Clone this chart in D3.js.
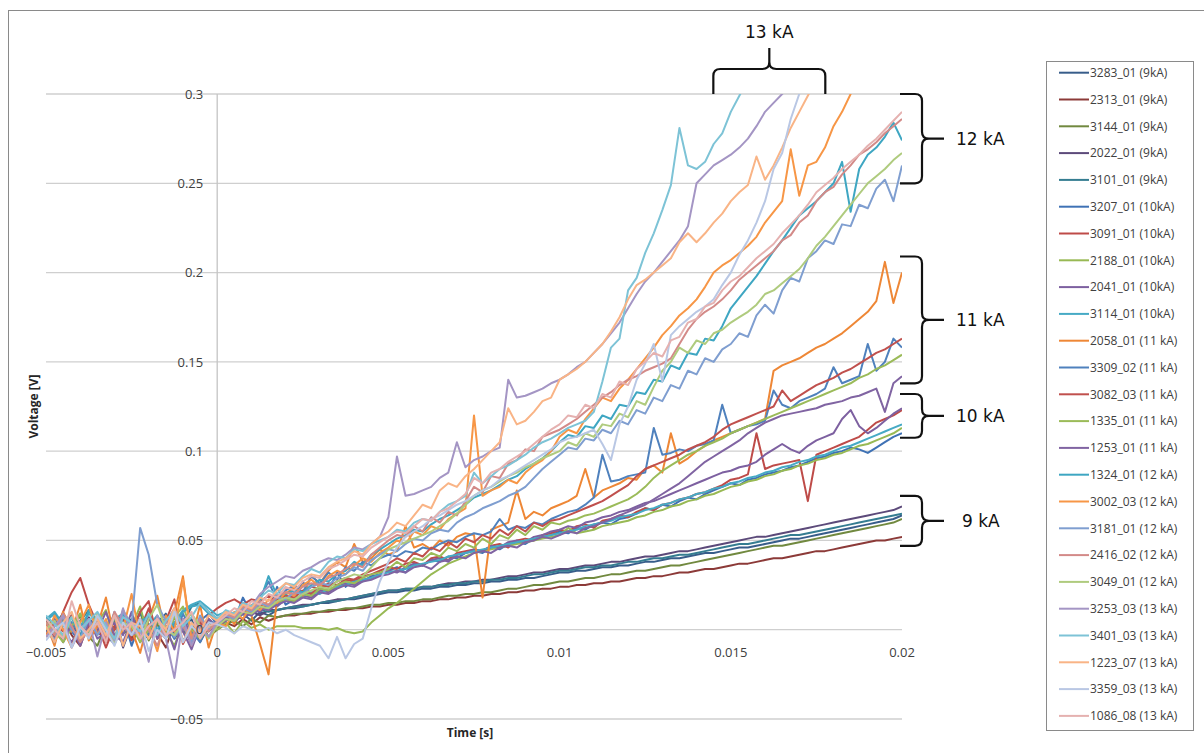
<!DOCTYPE html>
<html>
<head>
<meta charset="utf-8">
<script src="https://cdn.jsdelivr.net/npm/d3@7"></script>
<style>
  body { margin: 0; background: #fff; }
  svg { display: block; font-family: "Open Sans", sans-serif; }
</style>
</head>
<body>
<svg id="chart" width="1204" height="753"></svg>
<script>
// sample times in ms (shared by every trace)
const timesMs = [
  -5,-4.75,-4.5,-4.25,-4,-3.75,-3.5,-3.25,-3,-2.75,-2.5,-2.25,-2,-1.75,-1.5,-1.25,-1,-0.75,-0.5,-0.25,
  0,0.25,0.5,0.75,1,1.25,1.5,1.75,2,2.25,2.5,2.75,3,3.25,3.5,3.75,4,4.25,4.5,4.75,
  5,5.25,5.5,5.75,6,6.25,6.5,6.75,7,7.25,7.5,7.75,8,8.25,8.5,8.75,9,9.25,9.5,9.75,
  10,10.25,10.5,10.75,11,11.25,11.5,11.75,12,12.25,12.5,12.75,13,13.25,13.5,13.75,14,14.25,14.5,14.75,
  15,15.25,15.5,15.75,16,16.25,16.5,16.75,17,17.25,17.5,17.75,18,18.25,18.5,18.75,19,19.25,19.5,19.75,20
];

// voltages in mV
const v3283 = [5,-4,2,8,-6,1,4,-3,-8,3,6,-1,-5,4,9,-3,1,6,-7,2,
  2,6,4,9,5,10,8,11,12,12,13,14,15,15,16,17,17,18,19,20,
  21,21,22,22,23,23,24,24,25,25,26,26,27,27,28,28,29,29,30,31,
  32,32,33,33,34,35,35,36,36,37,38,38,39,40,40,41,42,43,43,44,
  45,46,46,47,48,49,50,51,51,52,53,54,55,56,57,58,59,60,61,62,64];
const v2313 = [-4,2,6,-3,-9,4,0,-7,2,9,-5,1,7,-2,-10,4,2,-6,0,6,
  1,4,2,6,3,7,5,7,8,8,9,9,10,10,11,11,12,12,13,13,
  14,14,15,15,16,16,17,17,18,18,19,19,20,20,21,21,22,22,23,23,
  24,24,25,25,26,26,27,27,28,29,29,30,30,31,32,32,33,34,34,35,
  36,37,37,38,39,40,40,41,42,43,44,44,45,46,47,48,49,50,50,51,52];
const v3144 = [2,-7,5,-1,8,-4,-9,3,5,-2,0,10,-6,3,-5,7,-1,-3,5,-4,
  0,3,5,2,6,4,8,7,8,9,9,10,10,11,11,12,12,13,14,14,
  15,15,16,16,17,17,18,19,19,20,20,21,21,22,23,23,24,25,25,26,
  27,27,28,29,29,30,31,31,32,33,33,34,35,36,36,37,38,39,40,41,
  42,43,44,45,46,47,47,48,49,50,51,52,53,54,55,56,57,58,59,60,62];
const v2022 = [-1,5,-7,2,-3,7,-1,-5,9,-10,3,5,-3,0,7,-5,2,-8,4,-1,
  3,5,8,6,10,8,11,11,12,13,14,14,15,16,17,17,18,19,20,21,
  22,22,23,23,24,24,25,26,26,27,27,28,28,29,30,30,31,32,32,33,
  34,34,35,36,36,37,38,38,39,40,41,41,42,43,44,44,45,46,47,48,
  49,50,51,52,52,53,54,55,56,57,58,59,60,61,62,63,64,65,66,67,69];
const v3101 = [7,3,9,1,5,11,3,-2,8,5,1,9,3,-1,5,10,3,13,15,10,
  6,8,5,10,9,11,10,11,12,13,13,14,15,16,16,17,18,19,20,21,
  22,22,23,23,24,24,25,25,26,26,27,27,28,28,29,29,30,31,31,32,
  33,33,34,35,35,36,36,37,38,38,39,40,40,41,42,42,43,44,45,46,
  47,48,48,49,50,51,52,53,53,54,55,56,57,58,59,60,61,62,63,64,65];
const v3207 = [4,-3,9,-1,-7,6,2,-5,0,8,-9,4,-1,-3,7,2,-6,0,5,9,
  3,8,5,18,9,14,11,24,14,17,27,19,23,22,32,24,28,27,30,31,
  33,35,32,37,36,39,38,41,40,43,44,43,46,45,48,49,48,51,52,53,
  55,54,57,56,59,60,59,62,63,65,68,67,70,69,72,74,73,76,78,80,
  82,81,84,85,87,88,89,91,92,94,96,97,99,100,102,101,99,102,105,108,110];
const v3091 = [5,-4,10,21,29,14,3,-10,2,7,-6,0,12,-5,5,17,-8,2,-3,8,
  12,15,17,14,17,16,19,15,20,22,21,24,23,26,25,28,27,30,31,33,
  35,34,37,38,36,40,41,39,43,44,45,44,47,48,46,50,51,50,53,54,
  56,55,58,59,57,61,62,64,63,66,68,67,70,71,73,74,76,77,79,81,
  84,85,87,110,90,92,93,94,95,72,98,100,102,104,106,108,112,116,118,120,123];
const v2188 = [2,6,-5,0,9,-3,4,11,-7,0,2,13,-5,6,-1,-9,4,2,-3,4,
  0,4,-2,5,1,3,0,2,2,2,1,1,1,0,1,-1,-2,-1,4,8,
  12,15,19,23,27,31,34,37,39,41,43,44,45,46,47,48,49,50,51,52,
  53,57,54,55,56,58,59,60,61,63,64,66,67,69,70,72,73,75,76,78,
  80,81,83,84,86,87,89,90,92,93,95,96,98,99,101,103,104,106,108,110,113];
const v2041 = [-3,5,0,-7,2,6,-5,-1,4,-3,10,-7,2,0,-5,9,-1,-11,2,6,
  2,5,9,6,11,10,14,13,17,16,19,18,22,21,24,26,25,28,29,31,
  33,32,35,37,36,39,40,38,42,43,45,44,47,46,49,50,49,52,53,55,
  56,58,57,60,61,63,64,66,67,69,71,72,74,76,78,80,82,84,86,88,
  89,91,92,94,98,101,104,101,99,103,106,108,110,118,123,114,110,113,117,121,124];
const v3114 = [6,10,3,7,2,9,5,0,8,4,-2,6,2,8,0,4,11,14,16,12,
  8,10,7,12,10,14,13,16,17,18,19,21,20,23,24,25,27,28,29,31,
  32,33,34,36,37,38,39,41,42,43,44,45,46,47,48,49,50,51,52,53,
  54,55,56,58,59,60,61,63,64,65,67,68,70,71,73,74,76,77,79,80,
  82,83,85,86,88,89,91,92,94,95,97,98,100,102,103,105,107,109,111,113,115];
const v2058 = [4,-9,10,-1,14,-6,2,18,-5,8,0,-13,6,19,-3,9,30,-6,14,-10,
  5,10,3,14,8,-8,-25,18,20,24,19,30,26,33,38,35,48,38,40,45,
  42,44,58,46,48,45,50,47,52,54,53,18,56,58,60,78,62,66,64,68,
  70,72,75,90,74,78,80,82,85,84,90,92,88,110,93,96,100,103,106,108,
  110,112,114,116,118,145,148,150,152,155,158,160,163,166,170,174,178,184,206,183,200];
const v3309 = [2,-7,8,4,-3,-1,6,-5,10,-9,4,0,-3,7,2,-5,9,-1,-7,4,
  4,10,7,15,12,18,27,16,22,25,21,30,26,32,28,35,33,38,36,40,
  42,41,44,43,46,45,48,50,49,52,54,53,55,62,56,58,57,60,59,62,
  64,66,67,70,74,98,83,84,86,87,88,113,98,99,101,100,103,104,106,126,
  110,112,114,115,117,134,126,124,128,130,132,135,147,138,140,142,160,145,150,163,158];
const v3082 = [-3,4,-1,8,-5,2,6,-7,0,4,-3,10,16,-5,2,-1,6,-9,4,0,
  3,8,6,11,9,14,12,17,19,18,22,20,25,24,27,29,28,31,33,35,
  37,40,38,43,41,46,44,49,46,51,49,53,51,56,53,58,55,60,58,61,
  62,64,66,68,70,72,75,78,81,86,90,92,94,96,98,101,103,105,108,112,
  115,117,119,121,123,125,134,128,131,134,137,139,141,144,146,149,152,155,157,160,163];
const v1335 = [4,-1,-7,2,9,-3,5,0,-5,11,2,-7,0,5,-3,7,13,0,-5,2,
  2,6,5,10,8,13,11,15,17,16,20,19,23,22,25,27,26,29,31,32,
  34,38,35,40,39,43,41,46,44,48,46,51,48,53,51,56,53,58,56,60,
  59,61,62,64,65,67,69,71,73,76,80,85,89,92,95,98,100,103,105,107,
  110,112,114,116,118,120,122,124,126,128,130,132,134,136,138,141,143,146,148,151,154];
const v1253 = [0,6,-5,2,-9,4,-1,10,-3,-7,5,0,8,-5,2,-11,6,-3,0,4,
  3,7,5,9,8,12,11,14,16,15,18,17,21,20,23,25,24,27,28,30,
  31,33,32,35,36,34,38,39,41,40,43,44,43,46,47,46,49,50,52,51,
  53,55,54,57,58,60,62,64,66,68,70,73,76,79,82,86,90,94,97,100,
  103,106,110,113,116,118,120,121,122,123,124,126,127,128,130,131,133,135,122,138,142];
const v1324 = [5,9,2,7,-4,11,4,-1,6,9,-3,4,8,0,6,2,10,13,14,9,
  5,9,8,13,12,16,30,19,20,22,21,25,28,27,31,33,38,36,42,45,
  48,51,53,56,55,59,62,64,67,70,74,76,78,81,84,86,90,93,96,100,
  105,109,108,114,113,120,118,126,125,133,132,140,139,148,146,155,154,163,162,170,
  180,186,192,198,205,212,218,225,232,236,240,245,250,262,234,258,266,270,276,284,274];
const v3002 = [-4,8,0,-10,4,14,-3,6,-7,0,20,-5,2,-12,8,-1,28,-5,6,0,
  4,2,10,6,14,11,17,15,21,19,25,28,24,30,33,31,36,40,38,43,
  46,50,48,55,53,58,56,62,65,68,120,75,78,80,84,82,88,92,95,100,
  108,112,110,118,124,130,128,135,140,146,152,158,165,170,176,180,185,192,200,204,
  207,211,215,220,228,234,240,269,243,260,262,270,282,290,300,312,325,338,350,362,375];
const v3181 = [2,-6,8,0,-5,6,-3,4,-8,10,3,57,42,14,5,-4,2,-7,8,0,
  3,8,6,12,10,15,13,18,17,21,20,24,26,25,29,31,35,33,39,42,
  45,44,48,51,50,54,56,55,60,63,65,68,70,72,75,77,80,85,90,94,
  98,102,101,107,106,112,110,117,115,123,121,130,128,137,135,145,143,152,150,157,
  160,166,164,176,182,177,190,197,195,208,212,218,216,227,226,238,236,247,252,240,260];
const v2416 = [4,-3,9,2,-7,0,6,-5,10,2,-3,6,0,-9,4,12,2,-5,6,-1,
  5,9,7,13,11,16,14,19,21,20,24,26,25,29,31,34,37,35,42,46,
  50,53,52,58,55,63,60,66,64,72,80,77,86,85,93,95,101,100,108,110,
  112,115,118,122,126,130,133,137,140,142,145,147,149,152,160,168,174,178,181,185,
  190,196,200,204,208,212,218,221,228,232,240,245,248,255,260,266,269,273,278,282,286];
const v3049 = [0,5,-5,7,2,-3,9,0,-7,4,2,-5,6,14,0,-3,4,9,2,-5,
  2,6,5,10,9,13,12,16,18,17,20,22,24,23,27,29,31,30,35,40,
  45,47,49,51,53,55,58,61,65,70,75,78,80,83,86,88,91,93,96,98,
  100,105,103,110,108,115,114,121,119,128,126,136,145,150,158,155,162,160,166,168,
  172,175,178,182,188,190,194,198,202,208,215,220,226,232,238,244,250,254,258,263,267];
const v3253 = [-4,2,8,-10,0,6,-15,4,-6,12,-3,0,-18,8,-5,-27,6,-9,2,-4,
  4,10,8,15,13,20,24,27,30,29,33,35,38,40,39,42,46,45,48,52,
  63,97,75,76,78,80,85,88,105,91,95,97,100,102,140,130,131,133,135,138,
  140,143,147,150,155,160,166,172,180,188,195,200,206,212,218,226,250,255,260,263,
  266,270,275,282,290,295,300,305,310,318,325,330,338,345,352,360,368,375,382,390,398];
const v3401 = [8,3,-3,7,0,5,10,2,-5,7,4,-1,9,-3,5,11,2,7,15,10,
  6,11,9,15,13,18,22,20,26,25,30,34,32,38,41,40,45,44,48,50,
  52,56,55,60,62,61,66,70,72,75,88,82,86,90,92,95,98,102,105,107,
  110,113,115,117,122,139,158,163,190,197,211,222,235,249,281,260,258,262,272,278,
  290,299,308,316,324,332,340,348,356,364,372,380,388,396,404,412,420,428,436,444,452];
const v1223 = [2,-7,4,10,-5,0,6,-3,8,-9,4,2,-5,6,0,12,-7,4,-1,8,
  5,10,8,14,12,18,16,22,26,24,29,31,30,35,38,40,44,42,48,52,
  55,60,58,64,70,68,78,82,80,86,90,95,100,105,124,115,117,122,128,130,
  140,143,146,150,155,160,167,175,185,193,196,200,204,208,217,222,217,222,228,233,
  240,245,249,265,252,260,270,281,290,299,308,316,324,332,340,348,356,364,372,380,388];
const v3359 = [-6,0,4,-10,2,-5,8,0,-9,4,-3,6,-12,0,-5,10,-7,2,-3,4,
  3,1,-2,2,0,-1,1,-2,0,-3,-5,-7,-9,-16,-4,-16,-8,-5,12,27,
  38,46,52,55,58,62,64,67,70,72,75,78,80,84,86,89,92,95,98,101,
  105,107,108,110,112,104,95,115,125,140,149,160,139,165,170,174,178,181,185,193,
  200,210,218,228,240,258,267,286,300,312,324,336,348,360,372,384,396,408,420,432,444];
const v1086 = [6,0,-5,16,2,-3,4,-7,8,0,4,-5,2,6,-3,0,4,10,-5,2,
  4,8,12,10,16,14,20,18,24,22,27,30,29,34,36,39,42,41,46,49,
  52,55,54,58,62,61,66,68,72,76,85,82,88,90,94,97,100,104,108,112,
  115,120,119,126,124,132,130,139,137,146,150,155,153,162,164,172,174,181,183,190,
  195,198,203,208,212,216,222,227,232,238,245,249,253,258,262,266,271,275,280,285,290];

const seriesNames = [
  '3283_01 (9kA)', '2313_01 (9kA)', '3144_01 (9kA)', '2022_01 (9kA)', '3101_01 (9kA)',
  '3207_01 (10kA)', '3091_01 (10kA)', '2188_01 (10kA)', '2041_01 (10kA)', '3114_01 (10kA)',
  '2058_01 (11 kA)', '3309_02 (11 kA)', '3082_03 (11 kA)', '1335_01 (11 kA)', '1253_01 (11 kA)',
  '1324_01 (12 kA)', '3002_03 (12 kA)', '3181_01 (12 kA)', '2416_02 (12 kA)', '3049_01 (12 kA)',
  '3253_03 (13 kA)', '3401_03 (13 kA)', '1223_07 (13 kA)', '3359_03 (13 kA)', '1086_08 (13 kA)'
];
const seriesValues = [
  v3283, v2313, v3144, v2022, v3101,
  v3207, v3091, v2188, v2041, v3114,
  v2058, v3309, v3082, v1335, v1253,
  v1324, v3002, v3181, v2416, v3049,
  v3253, v3401, v1223, v3359, v1086
];
const seriesColors = [
  '#385D8A', '#8C3A38', '#71893F', '#5C4A7A', '#357D91',
  '#3F72B5', '#BE4B48', '#98B954', '#7D60A0', '#46AAC5',
  '#EE8736', '#4F81BD', '#C0504D', '#9BBB59', '#8064A2',
  '#3EA6C2', '#F79646', '#7F9ED0', '#D38A88', '#AFCB7E',
  '#A495C4', '#7DC3D6', '#F9B486', '#B9C7E4', '#E5B1B0'
];

const xTicks = [-0.005, 0, 0.005, 0.01, 0.015, 0.02];
const yTicks = [-0.05, 0, 0.05, 0.1, 0.15, 0.2, 0.25, 0.3];

// kA groups marked by braces (volts at the right edge, seconds on top)
const groupLabels = ['12 kA', '11 kA', '10 kA', '9 kA'];
const groupRanges = [[0.3, 0.25], [0.209, 0.138], [0.132, 0.1075], [0.075, 0.047]];
const topGroupLabel = '13 kA';
const topGroupRange = [0.01449, 0.01776];

const svg = d3.select('#chart');
const plot = { left: 46, right: 902, top: 94, bottom: 719 };

const xScale = d3.scaleLinear().domain([-0.005, 0.02]).range([plot.left, plot.right]);
const yScale = d3.scaleLinear().domain([-0.05, 0.3]).range([plot.bottom, plot.top]);

// chart frame
svg.append('rect')
  .attr('x', 8.5).attr('y', 10.5)
  .attr('width', 1210).attr('height', 760)
  .attr('fill', '#fff')
  .attr('stroke', '#8a8a8a')
  .attr('stroke-width', 1);

// horizontal gridlines
svg.append('g')
  .selectAll('line')
  .data(yTicks)
  .enter().append('line')
  .attr('x1', plot.left).attr('x2', plot.right)
  .attr('y1', d => yScale(d)).attr('y2', d => yScale(d))
  .attr('stroke', '#cfcfcf')
  .attr('stroke-width', 1.3);

// vertical axis line through x = 0
svg.append('line')
  .attr('x1', xScale(0)).attr('x2', xScale(0))
  .attr('y1', plot.top).attr('y2', plot.bottom)
  .attr('stroke', '#c4c4c4')
  .attr('stroke-width', 1.3);

// traces, clipped to the plot area
svg.append('clipPath').attr('id', 'plot-clip')
  .append('rect')
  .attr('x', plot.left).attr('y', plot.top)
  .attr('width', plot.right - plot.left)
  .attr('height', plot.bottom - plot.top);

const line = d3.line()
  .x((d, i) => xScale(timesMs[i] / 1000))
  .y(d => yScale(d / 1000));

svg.append('g')
  .attr('clip-path', 'url(#plot-clip)')
  .selectAll('path')
  .data(seriesValues)
  .enter().append('path')
  .attr('fill', 'none')
  .attr('stroke', (d, i) => seriesColors[i])
  .attr('stroke-width', 2)
  .attr('stroke-linejoin', 'round')
  .attr('d', line);

// tick labels (on top of the traces, as in the original)
svg.append('g')
  .selectAll('text')
  .data(yTicks)
  .enter().append('text')
  .attr('x', xScale(0) - 14)
  .attr('y', d => yScale(d))
  .attr('dy', '0.36em')
  .attr('text-anchor', 'end')
  .style('font-size', '13px')
  .style('fill', '#404040')
  .text(d => d3.format('~g')(d));

svg.append('g')
  .selectAll('text')
  .data(xTicks)
  .enter().append('text')
  .attr('x', d => xScale(d))
  .attr('y', yScale(0) + 23)
  .attr('dy', '0.36em')
  .attr('text-anchor', 'middle')
  .style('font-size', '13px')
  .style('fill', '#404040')
  .text(d => d3.format('~g')(d));

// axis titles
svg.append('text')
  .attr('transform', `translate(34, ${(plot.top + plot.bottom) / 2}) rotate(-90)`)
  .attr('text-anchor', 'middle')
  .attr('dy', '0.36em')
  .style('font-size', '12px')
  .style('font-weight', '700')
  .style('fill', '#262626')
  .text('Voltage [V]');

svg.append('text')
  .attr('x', 470)
  .attr('y', 733)
  .attr('dy', '0.36em')
  .attr('text-anchor', 'middle')
  .style('font-size', '12px')
  .style('font-weight', '700')
  .style('fill', '#262626')
  .text('Time [s]');

// braces
const braceStyle = sel => sel
  .attr('fill', 'none')
  .attr('stroke', '#111')
  .attr('stroke-width', 2.2);

const vBrace = (y0, y1) => {
  const x0 = plot.right - 2, xv = 922, xt = 944, r = 7, ym = (y0 + y1) / 2;
  return `M${x0},${y0} L${xv - r},${y0} Q${xv},${y0} ${xv},${y0 + r} L${xv},${ym - r} ` +
    `Q${xv},${ym} ${xv + r},${ym} L${xt},${ym} M${xv + r},${ym} Q${xv},${ym} ${xv},${ym + r} ` +
    `L${xv},${y1 - r} Q${xv},${y1} ${xv - r},${y1} L${x0},${y1}`;
};

groupRanges.forEach((r, i) => {
  const y0 = yScale(r[0]), y1 = yScale(r[1]);
  svg.append('path').attr('d', vBrace(y0, y1)).call(braceStyle);
  svg.append('text')
    .attr('x', i === 3 ? 962 : 956)
    .attr('y', (y0 + y1) / 2)
    .attr('dy', '0.36em')
    .style('font-family', '"DejaVu Sans", sans-serif')
    .style('font-size', '17px')
    .style('fill', '#111')
    .text(groupLabels[i]);
});

(() => {
  const x0 = xScale(topGroupRange[0]), x1 = xScale(topGroupRange[1]);
  const xm = (x0 + x1) / 2, yb = plot.top, yv = 69, yt = 48, r = 7;
  const d = `M${x0},${yb} L${x0},${yv + r} Q${x0},${yv} ${x0 + r},${yv} L${xm - r},${yv} ` +
    `Q${xm},${yv} ${xm},${yv - r} L${xm},${yt} M${xm},${yv - r} Q${xm},${yv} ${xm + r},${yv} ` +
    `L${x1 - r},${yv} Q${x1},${yv} ${x1},${yv + r} L${x1},${yb}`;
  svg.append('path').attr('d', d).call(braceStyle);
  svg.append('text')
    .attr('x', xm)
    .attr('y', 32)
    .attr('dy', '0.36em')
    .attr('text-anchor', 'middle')
    .style('font-family', '"DejaVu Sans", sans-serif')
    .style('font-size', '17px')
    .style('fill', '#111')
    .text(topGroupLabel);
})();

// legend
const legend = svg.append('g');
legend.append('rect')
  .attr('x', 1046.5).attr('y', 61.5)
  .attr('width', 147).attr('height', 669)
  .attr('fill', '#fff')
  .attr('stroke', '#8a8a8a');

const item = legend.selectAll('g.item')
  .data(seriesNames)
  .enter().append('g')
  .attr('class', 'item')
  .attr('transform', (d, i) => `translate(0, ${72.7 + i * 26.8})`);

item.append('line')
  .attr('x1', 1059).attr('x2', 1089)
  .attr('stroke', (d, i) => seriesColors[i])
  .attr('stroke-width', 2);

item.append('text')
  .attr('x', 1090)
  .attr('dy', '0.36em')
  .style('font-size', '12px')
  .style('fill', '#404040')
  .text(d => d);
</script>
</body>
</html>
